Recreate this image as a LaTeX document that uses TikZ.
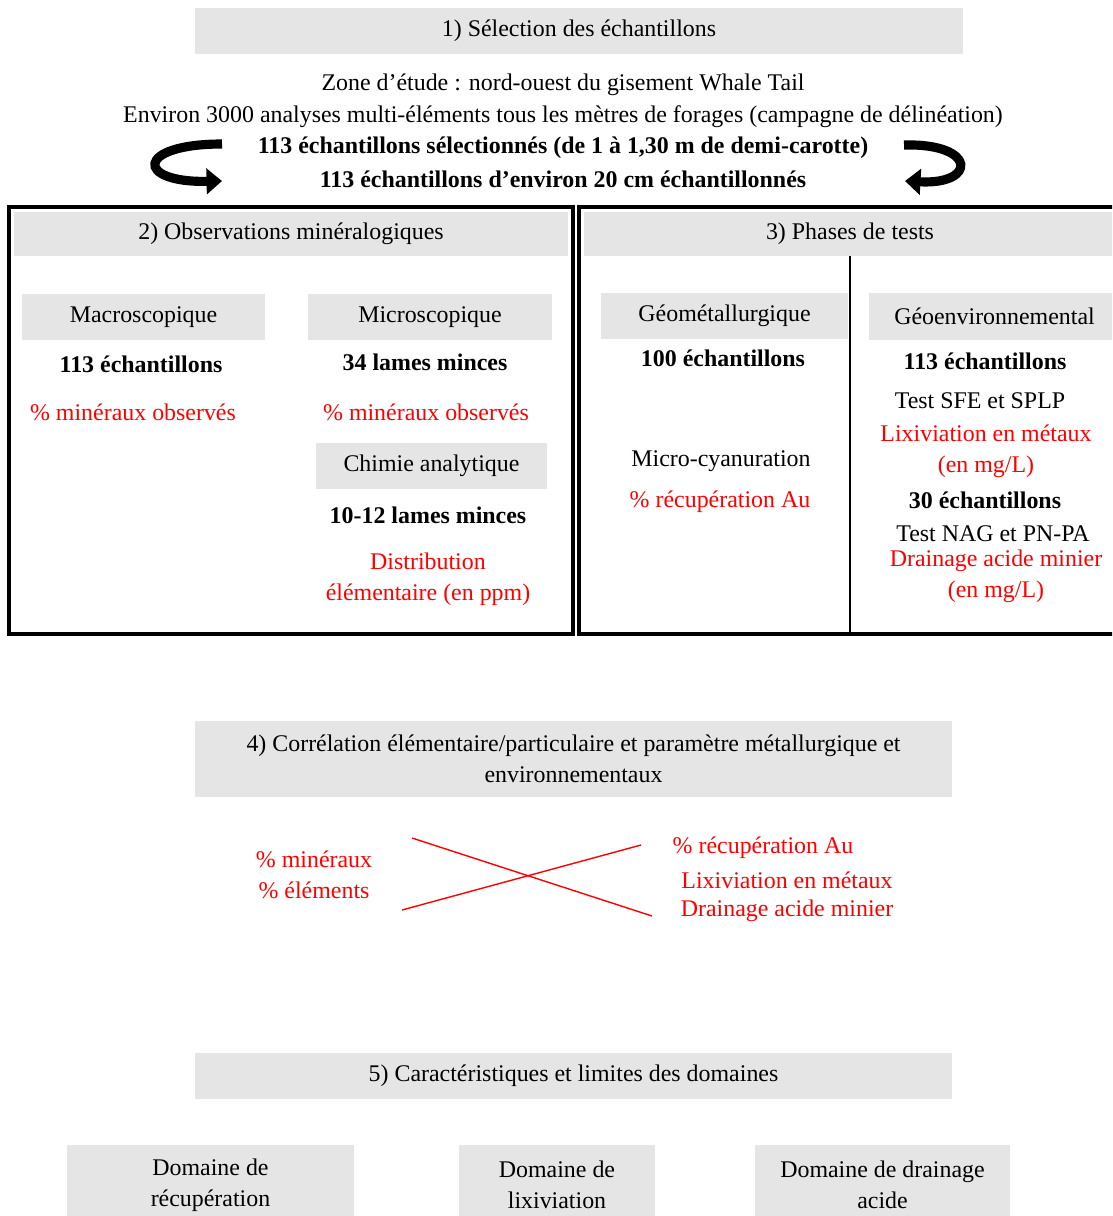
\documentclass[tikz,border=0pt]{standalone}
\usepackage{fontspec}
\setmainfont{Liberation Serif}
\usetikzlibrary{arrows.meta,positioning}

\begin{document}
\begin{tikzpicture}[
    x=0.025cm, y=-0.025cm,
    font=\fontsize{17pt}{22pt}\selectfont,
    head/.style={
        fill=gray!20,
        inner sep=0pt,
        align=center,
        minimum height=1.15cm
    },
    bigframe/.style={
        draw=black,
        line width=2.8pt,
        inner sep=0pt
    },
    txt/.style={align=center, inner sep=1pt, yshift=-1.5pt},
    redtxt/.style={text=red, align=center, inner sep=1pt, yshift=-1.5pt},
    bendarrow/.style={line width=6.5pt, -{Triangle[length=11pt,width=18pt]}},
    crossline/.style={red, line width=1pt}
]
\useasboundingbox (0,0) rectangle (1112,1216);
\clip (0,0) rectangle (1112,1216);

% 1) selection
\node[head, minimum width=19.2cm, minimum height=1.125cm] (sel) at (579,31) {1) Sélection des échantillons};
\node[txt] (zone) at (563,83) {Zone d’étude : nord-ouest du gisement Whale Tail};
\node[txt] (env) at (563,115) {Environ 3000 analyses multi-éléments tous les mètres de forages (campagne de délinéation)};
\node[txt] (sel113) at (563,146) {\textbf{113 échantillons sélectionnés (de 1 à 1,30 m de demi-carotte)}};
\node[txt] (sel20) at (563,177) {\textbf{113 échantillons d’environ 20 cm échantillonnés}};

\coordinate (ltop) at (222,144);
\coordinate (lend) at (222,181);
\draw[bendarrow] (ltop) .. controls (135,144) and (135,183) .. (lend);
\coordinate (rtop) at (904,145);
\coordinate (rend) at (905,181);
\draw[bendarrow] (rtop) .. controls (977,143) and (977,185) .. (rend);

% 2) observations
\node[bigframe, minimum width=14.1cm, minimum height=10.675cm] (obs) at (291,420.5) {};
\node[head, minimum width=13.85cm, minimum height=1.1cm] (obshead) at (291,234) {2) Observations minéralogiques};

\node[head, minimum width=6.075cm] (macro) at (143.5,317) {Macroscopique};
\node[txt] (macron) at (141,362) {\textbf{113 échantillons}};
\node[redtxt] (macrop) at (133,410) {\% minéraux observés};

\node[head, minimum width=6.1cm] (micro) at (430,317) {Microscopique};
\node[txt] (micron) at (425,360) {\textbf{34 lames minces}};
\node[redtxt] (microp) at (426,410) {\% minéraux observés};

\node[head, minimum width=5.775cm, minimum height=1.125cm] (chim) at (431.5,466) {Chimie analytique};
\node[txt] (chimn) at (428,513) {\textbf{10-12 lames minces}};
\node[redtxt] (chimp) at (428,577) {Distribution\\élémentaire (en ppm)};

% 3) tests
\node[bigframe, minimum width=13.425cm, minimum height=10.675cm] (tests) at (847.5,420.5) {};
\node[head, minimum width=13.3cm, minimum height=1.1cm] (testshead) at (850,234) {3) Phases de tests};
\coordinate (split) at (850,256);
\draw[line width=1.6pt] (split) -- (split |- tests.south);

\node[head, minimum width=6.175cm] (geomet) at (724.5,316) {Géométallurgique};
\node[txt] (geometn) at (723,356) {\textbf{100 échantillons}};
\node[txt] (cyan) at (721,459) {Micro-cyanuration};
\node[redtxt] (cyanp) at (720,500) {\% récupération Au};

\node[head, minimum width=6.275cm] (geoenv) at (994.5,316.5) {Géoenvironnemental};
\node[txt] (geoenvn) at (985,359) {\textbf{113 échantillons}};
\node[txt] (sfe) at (980,399) {Test SFE et SPLP};
\node[redtxt] (sfep) at (986,449) {Lixiviation en métaux\\(en mg/L)};
\node[txt] (nagn) at (985,498) {\textbf{30 échantillons}};
\node[txt] (nag) at (993,532) {Test NAG et PN-PA};
\node[redtxt] (nagp) at (996,574) {Drainage acide minier\\(en mg/L)};

% 4) correlation
\node[head, minimum width=18.925cm, minimum height=1.9cm] (corr) at (573.5,759) {4) Corrélation élémentaire/particulaire et paramètre métallurgique et\\environnementaux};

\node[redtxt] (corrl) at (314,873) {\% minéraux\\\% éléments};
\node[redtxt] (corrr1) at (763,846) {\% récupération Au};
\node[redtxt] (corrr2) at (787,878) {Lixiviation en métaux};
\node[redtxt] (corrr3) at (787,909) {Drainage acide minier};

\coordinate (xa) at (412,838);
\coordinate (xb) at (652,916);
\coordinate (xc) at (402,910);
\coordinate (xd) at (641,845);
\draw[crossline] (xa) -- (xb);
\draw[crossline] (xc) -- (xd);

% 5) domaines
\node[head, minimum width=18.925cm] (dom) at (573.5,1076) {5) Caractéristiques et limites des domaines};
\node[head, minimum width=7.175cm, minimum height=2cm] (domrec) at (210.5,1185) {Domaine de\\récupération};
\node[head, minimum width=4.9cm, minimum height=2cm] (domlix) at (557,1185) {Domaine de\\lixiviation};
\node[head, minimum width=6.375cm, minimum height=2cm] (domdam) at (882.5,1185) {Domaine de drainage\\acide};

\end{tikzpicture}
\end{document}
